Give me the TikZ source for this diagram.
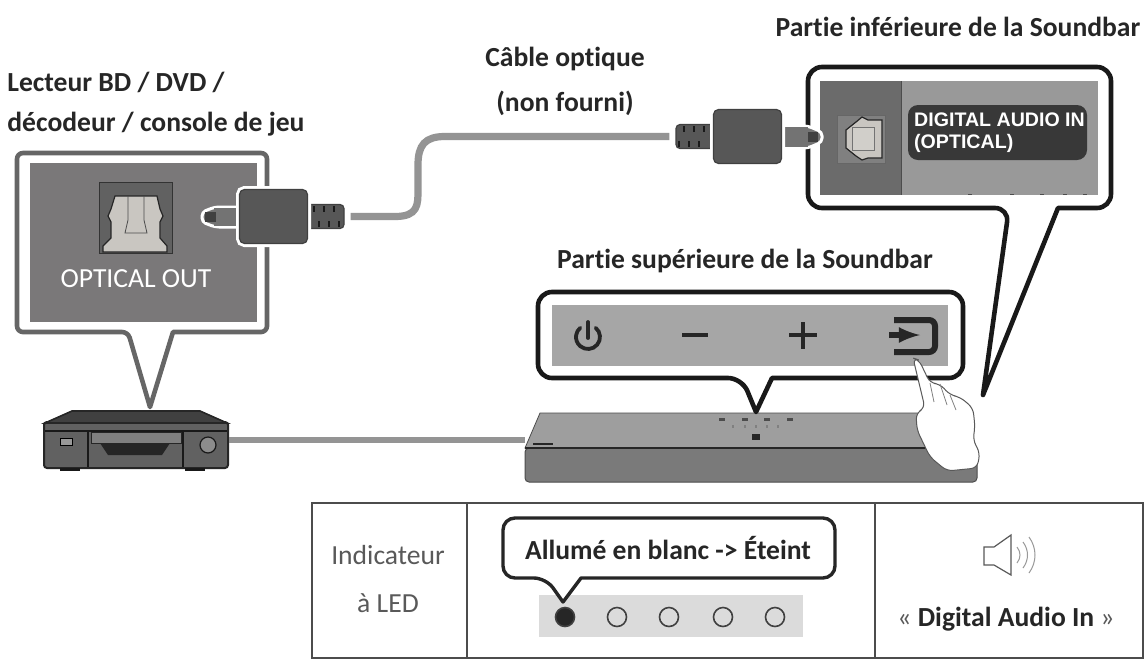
\documentclass[tikz,border=0pt]{standalone}
\usepackage{fontspec}
\setmainfont[Ligatures=NoCommon]{Carlito}
\newfontfamily\panelfont{Liberation Sans}
\usetikzlibrary{arrows,positioning}

\tikzset{
	caption/.style={font=\fontsize{13.8}{16}\selectfont\bfseries,color=black!85,inner sep=0pt},
	thin text/.style={font=\fontsize{13.8}{16}\selectfont,color=black!65,inner sep=0pt},
	frame/.style={line width=2.3pt,draw=black!90,fill=white,line join=round},
	cable/.style={line width=3.6pt,color=black!42},
	plughead/.style={draw=black!75,fill=black!66,line width=0.6pt,rounded corners=2.5pt,inner sep=0pt,
		minimum width=34pt,minimum height=27pt,preaction={draw=white,line width=3.5pt}},
	plugboot/.style={draw=black!75,fill=black!66,line width=0.6pt,rounded corners=2pt,inner sep=0pt,
		minimum width=19pt,minimum height=12pt},
	led/.style={circle,draw=black!75,line width=0.8pt,inner sep=0pt,minimum size=9.5pt}
}

\begin{document}
\begin{tikzpicture}[>=latex,x=0.5pt,y=-0.5pt]

\definecolor{panelgray}{HTML}{7A7879}
\definecolor{portlight}{HTML}{C9C6C1}

\useasboundingbox (0,0) rectangle (1146,660);
\fill[white] (0,0) rectangle (1146,660);

% soundbar and player
\node (barfront) at (751,465) [draw=black!70,fill=black!52,line width=0.5pt,rounded corners=2pt,
	inner sep=0pt,minimum width=226pt,minimum height=17pt] {};
\node (devfront) at (136,445) [draw=black!85,fill=black!62,line width=1pt,rounded corners=1.5pt,
	inner sep=0pt,minimum width=92pt,minimum height=23pt] {};

\draw[cable,line width=3pt] ([yshift=2.5pt]devfront.east)--([yshift=12.5pt]barfront.west);

\fill[color=black!38,draw=black!70,line width=0.4pt] (525,448)--(540,413)--(920,413)--(950,448)--cycle;
\draw[line width=0.7pt,color=black!85] (525,448)--(950,448);
\draw[line width=0.8pt,color=black!85] (533,444)--(553,444);
\fill[color=black!85] (752,434) rectangle (760,440);
\foreach \x in {722,745,767,790}{
	\fill[color=black!70] (\x-3,418) rectangle (\x+3,421);
}
\foreach \x in {733,745,756,767,778}{
	\fill[color=black!50] (\x-1,425) rectangle (\x+1,428);
}

\fill[color=black!75,draw=black!85,line width=0.8pt] (45,423)--(72,411)--(200,411)--(227,423)--cycle;
\draw[line width=0.7pt,color=black!90] (45,431)--(227,431);
\draw[line width=0.7pt,color=black!90] (88,431)--(88,467);
\draw[line width=0.7pt,color=black!90] (183,431)--(183,467);
\fill[color=black!50,draw=black!85,line width=0.4pt] (91,432) rectangle (181,443);
\fill[color=black!85] (100,443)--(170,443)--(162,455)--(108,455)--cycle;
\draw[fill=black!40,line width=0.4pt] (60,438) rectangle (72,445);
\node (devknob) at (208,445) [circle,draw=black!90,fill=black!45,line width=0.6pt,inner sep=0pt,minimum size=8pt] {};
\foreach \x in {70,195}{
	\fill[color=black!90] (\x-10,468) rectangle (\x+10,471);
}

% left callout
\draw[frame,draw=black!60] (173,332) [rounded corners=3pt] --(267,332)--(267,153)--(17,153)--(17,332)--(128,332)
	[sharp corners] --(150,407)--cycle;
\fill[color=panelgray] (30,163) rectangle (257,322);
\fill[color=black!62,draw=black!80,line width=0.4pt] (99,182) rectangle (172,253);
\draw[line width=0.6pt,draw=black!85,fill=portlight]
	(103,252)--(103,246)--(111,238)--(111,222)--(108,216)--(111,209)--(115,196)--(157,196)
	--(160,209)--(163,216)--(160,222)--(160,238)--(167,246)--(167,252)--cycle;
\draw[line width=0.4pt,color=black!70] (128,196)--(128,220)--(125,233)--(147,233)--(144,220)--(144,196);
\node (opticalout) at (136,279) [thin text,color=white] {OPTICAL OUT};

% right callout
\draw[frame] (1058,208) [rounded corners=7pt] --(1111,208)--(1111,67)--(808,67)--(808,208)--(1009,208)
	[sharp corners] --(983,395)--cycle;
\fill[color=black!40] (820,81) rectangle (1098,195);
\fill[color=black!58] (820,81) rectangle (901,195);
\draw[line width=0.5pt,color=black!70] (901,81)--(901,195);
\fill[color=black!50,draw=black!60,line width=0.3pt] (837,115) rectangle (885,163);
\draw[line width=0.6pt,draw=black!85,fill=portlight]
	(882,120)--(868,120)--(862,117)--(856,122)--(846,130)--(846,148)--(856,156)--(862,160)--(868,158)--(882,158)--cycle;
\draw[line width=0.3pt,draw=black!55,fill=portlight!85] (852,127) rectangle (874,150);
\foreach \x in {970,1012,1042,1065,1085}{
	\fill[color=black!70] (\x-2,194) rectangle (\x+2,195);
}
\node (digitalin) at (997.5,132.5) [fill=black!78,rounded corners=5pt,inner sep=0pt,
	minimum width=89.5pt,minimum height=27.5pt] {};
\node (digitaltext) at (digitalin) [font=\panelfont\bfseries\fontsize{9.8}{10.8}\selectfont,color=white,align=left,
	inner sep=0pt,xshift=1pt] {DIGITAL AUDIO IN\\(OPTICAL)};

% top callout
\draw[frame] (772,378) [rounded corners=7pt] --(963,378)--(963,292)--(538,292)--(538,378)--(742,378)
	[sharp corners] --(756,412)--cycle;
\fill[color=black!35] (552,305) rectangle (948,366);
\draw[line width=1.9pt,color=black!85,line cap=round] (595.7,327.8) arc (-50:230:12);
\draw[line width=1.9pt,color=black!85,line cap=round] (588,322)--(588,338);
\draw[line width=1.9pt,color=black!85] (682,335)--(708,335);
\draw[line width=1.9pt,color=black!85] (789,335)--(817,335);
\draw[line width=1.9pt,color=black!85] (803,322)--(803,349);
\draw[line width=3pt,color=black!85,rounded corners=3pt] (894,320)--(935,320)--(935,352)--(894,352);
\draw[->,line width=2.6pt,color=black!85] (889,335)--(920,335);

% hand
\draw[line width=0.5pt,draw=black!65,fill=white,rounded corners=3pt]
	(913,358)--(919,360)--(930,383)--(940,384)--(950,395)--(960,397)--(973,408)--(975,427)--(973,440)
	--(980,453)--(977,468)--(947,471)--(930,457)--(917,430)--(916,413)--(925,408)--cycle;
\draw[line width=0.4pt,color=black!50] (930,383)--(934,402);
\draw[line width=0.4pt,color=black!50] (940,384)--(947,405);
\draw[line width=0.4pt,color=black!50] (950,395)--(956,410);

% plugs and cable
\node (bootleft) at (325,216.5) [plugboot] {};
\node (bootright) at (695,136.5) [plugboot] {};
\draw[cable] ([xshift=3pt]bootleft.east)--(395,216.5) .. controls (418,216.5) and (418,205) .. (418,190)
	--(418,165) .. controls (418,145) and (425,136.5) .. (445,136.5)--([xshift=-3pt]bootright.west);

\draw[fill=black!55,draw=white,line width=1.5pt,rounded corners=2pt] (243,207)--(215,207)--(202,212)--(202,222)--(215,227)--(243,227)--cycle;
\fill[color=black!55] (214,208) rectangle (242,226);
\fill[color=black!75] (205,212) rectangle (216,222);
\node (headleft) at (273.5,216.5) [plughead] {};

\draw[fill=black!55,draw=white,line width=1.5pt,rounded corners=2pt] (778,126)--(808,126)--(822,132)--(822,142)--(808,148)--(778,148)--cycle;
\fill[color=black!55] (782,127) rectangle (808,147);
\fill[color=black!75] (808,132) rectangle (818,142);
\node (headright) at (747.5,136.5) [plughead] {};

\foreach \x in {314,324,334}{
	\draw[line width=0.6pt,color=black!90] (\x,206)--(\x,212);
	\draw[line width=0.6pt,color=black!90] (\x+5,227)--(\x+5,221);
}
\foreach \x in {684,694,704}{
	\draw[line width=0.6pt,color=black!90] (\x,126)--(\x,132);
	\draw[line width=0.6pt,color=black!90] (\x-5,147)--(\x-5,141);
}

% texts
\node (player) at (7,82) [caption,anchor=west] {Lecteur BD / DVD /};
\node (decoder) at (7,124) [caption,anchor=west] {décodeur / console de jeu};
\node (cablename) at (565,59) [caption] {Câble optique};
\node (notgiven) at (565,103) [caption] {(non fourni)};
\node (bottomside) at (958,27) [caption] {Partie inférieure de la Soundbar};
\node (topside) at (745,261) [caption] {Partie supérieure de la Soundbar};

% table
\draw[line width=0.7pt,color=black!70] (312,503) rectangle (1143,658);
\draw[line width=0.7pt,color=black!70] (467,503)--(467,658);
\draw[line width=0.7pt,color=black!70] (875,503)--(875,658);

\node (ledname) at (388,555) [thin text] {Indicateur};
\node (ledname2) at (388,603) [thin text] {à LED};

\fill[color=black!14] (539,595) rectangle (803,637);
\draw[line width=1.7pt,draw=black!85,fill=white,line join=round] (581,578) [rounded corners=6pt] --(835,578)--(835,518)--(503,518)--(503,578)--(546,578)
	[sharp corners] --(563,602)--cycle;
\node (ledstate) at (668,548) [caption] {Allumé en blanc -> Éteint};

\node (ledone) at (565,617) [led,fill=black!85] {};
\foreach \x/\n in {617/two,669/three,723/four,775/five}{
	\node (led\n) at (\x,617) [led] {};
}

\draw[line width=0.6pt,color=black!65] (984,547)--(994,547)--(1011,535)--(1011,575)--(994,565)--(984,565)--cycle;
\draw[line width=0.5pt,color=black!40] (1017,547) .. controls (1021,552) and (1021,558) .. (1017,563);
\draw[line width=0.5pt,color=black!40] (1023,542) .. controls (1029,550) and (1029,560) .. (1023,568);
\draw[line width=0.5pt,color=black!40] (1029,537) .. controls (1037,548) and (1037,562) .. (1029,573);

\node (inputname) at (1006,619) [thin text] {«\ \textcolor{black!85}{\bfseries Digital Audio In}\ »};

\end{tikzpicture}
\end{document}
